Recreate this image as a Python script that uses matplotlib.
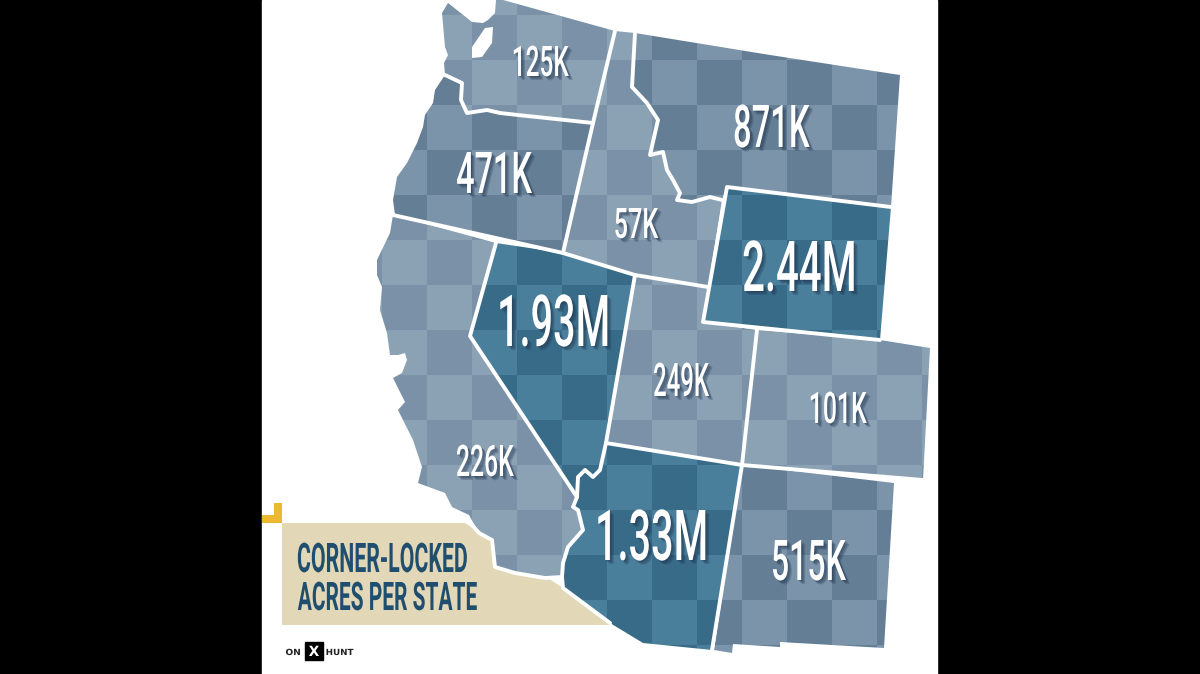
import numpy as np
import matplotlib
matplotlib.use("Agg")
import matplotlib.pyplot as plt
from matplotlib.colors import ListedColormap
from matplotlib.patches import Polygon, Rectangle
from matplotlib.patheffects import AbstractPathEffect
from matplotlib.transforms import Affine2D

# state outlines (image pixels)
wa = [(442,13),(448,3),(467,18),(472,22),(483,23),(488,20),(495,13),(496,0),(503,0),(615,31),(593,123),
      (537,117),(527,116),(500,113),(487,110),(467,113),(461,100),(462,83),(445,75),(444,63),(448,55),(445,47)]
puget = [(472,47),(485,28),(493,27),(492,43),(482,57),(472,58)]
ore = [(445,75),(462,83),(461,100),(467,113),(487,110),(500,113),(527,116),(537,117),(593,123),(563,253),(393,215),
       (395,215),(393,200),(397,177),(407,163),(417,143),(423,127),(425,115),(433,103),(435,90)]
idaho = [(615,31),(635,33),(632,87),(647,103),(658,120),(650,155),(663,152),(667,170),(673,180),(680,193),(677,200),
         (692,202),(710,197),(722,200),(708,287),(635,275),(563,253),(593,123)]
mt = [(635,33),(770,55),(900,75),(891,207),(727,187),(722,200),(710,197),(692,202),(677,200),(680,193),(673,180),
      (667,170),(663,152),(650,155),(658,120),(647,103),(632,87)]
wy = [(727,187),(891,207),(880,340),(703,322)]
co = [(757,330),(880,340),(930,348),(923,480),(742,465)]
ut = [(635,275),(708,287),(703,322),(757,330),(742,465),(606,443)]
nv = [(496,243),(563,253),(635,275),(606,443),(600,470),(593,477),(585,470),(578,477),(577,497),(470,336)]
ca = [(393,215),(496,243),(470,336),(577,497),(573,507),(578,510),(583,530),(568,547),(563,563),(562,577),(545,578),
      (515,573),(495,567),(492,540),(479,533),(469,515),(452,507),(445,493),(418,483),(422,467),(413,440),(398,410),
      (405,402),(393,378),(402,373),(407,360),(405,353),(398,355),(390,355),(387,333),(380,310),(382,287),(377,275),
      (377,260),(390,233)]
az = [(606,443),(742,465),(712,650),(643,643),(610,623),(563,588),(563,563),(568,547),(583,530),(578,510),(573,507),
      (577,497),(578,477),(585,470),(593,477),(600,470)]
nm = [(742,465),(894,483),(884,648),(780,642),(780,647),(733,644),(732,653),(714,650)]

# only the inner borders get a white line, the coast and outer edges stay bare
borders = [
    [(445,75),(462,83),(461,100),(467,113),(487,110),(500,113),(527,116),(537,117),(593,123)],
    [(615,31),(593,123),(563,253)],
    [(635,33),(632,87),(647,103),(658,120),(650,155),(663,152),(667,170),(673,180),(680,193),(677,200),(692,202),
     (710,197),(722,200)],
    [(393,215),(563,253),(635,275),(708,287)],
    [(891,207),(727,187),(703,322),(880,340)],
    [(496,243),(470,336),(577,497)],
    [(635,275),(606,443),(600,470),(593,477),(585,470),(578,477),(577,497),(573,507),(578,510),(583,530),(568,547),
     (563,563),(562,577),(563,588),(610,623)],
    [(757,330),(742,465),(712,650)],
    [(606,443),(742,465),(923,480)],
    [(465,517),(479,533),(492,540),(495,567),(515,573),(545,578),(562,577)],
]

states = [wa, ore, idaho, mt, ca, nv, ut, wy, co, az, nm]
shades = ["pale", "slate", "pale", "slate", "pale", "teal", "pale", "teal", "pale", "teal", "slate"]
labels = ["125K", "471K", "57K", "871K", "226K", "1.93M", "249K", "2.44M", "101K", "1.33M", "515K"]
title_lines = ["CORNER-LOCKED", "ACRES PER STATE"]

palette = {"pale": ["#8BA1B4", "#7A91A7"], "slate": ["#7C94AA", "#647E96"], "teal": ["#4A7F9C", "#376B88"]}
# left, top, right, bottom of each number
label_boxes = [(512,46,567,76), (456,152,531,193), (614,208,657,238), (733,105,808,147), (456,445,513,476),
               (500,295,607,346), (653,363,708,396), (745,241,855,291), (809,392,865,423), (598,510,705,560),
               (771,540,844,580)]
title_boxes = [(298,543,467,572), (298,582,477,610)]


class Fit(AbstractPathEffect):
    # squeezes the glyphs to a given pixel width, the fonts here are too wide
    def __init__(self, width, shadow=0):
        super().__init__()
        self.width = width
        self.shadow = shadow

    def draw_path(self, renderer, gc, tpath, affine, rgbFace=None):
        ext = tpath.get_extents()
        sx = self.width / (ext.width * affine.to_values()[0])
        cx = (ext.x0 + ext.x1) / 2
        fit = Affine2D().translate(-cx, 0).scale(sx, 1).translate(cx, 0) + affine
        for k in range(self.shadow, 0, -1):
            gc0 = renderer.new_gc()
            gc0.copy_properties(gc)
            gc0.set_alpha(0.22)
            renderer.draw_path(gc0, tpath, fit + Affine2D().translate(k, -k), (0.12, 0.2, 0.3))
            gc0.restore()
        renderer.draw_path(gc, tpath, fit, rgbFace)


def fitted_text(ax, box, s, color, shadow=0, weight="bold", family="Roboto"):
    x0, y0, x1, y1 = box
    size = (y1 - y0) / 0.711 * 0.72
    t = ax.text((x0 + x1) / 2, y1, s, ha="center", va="baseline", color=color, fontsize=size,
                fontweight=weight, family=family, zorder=5)
    t.set_path_effects([Fit(x1 - x0, shadow)])


fig = plt.figure(figsize=(12, 6.74), dpi=100, facecolor="black")
ax = fig.add_axes([0, 0, 1, 1])
ax.set_xlim(0, 1200)
ax.set_ylim(674, 0)
ax.axis("off")

ax.add_patch(Rectangle((262, 0), 675, 674, color="white", zorder=0))

# title plate and yellow corner
ax.add_patch(Polygon([(282,523),(465,523),(563,588),(610,625),(282,625)], color="#E2D8B8", lw=0, zorder=1))
ax.add_patch(Polygon([(262,515),(274,515),(274,503),(282,503),(282,523),(262,523)], color="#EDB92E", lw=0, zorder=1))

# checker cells are 45 px and shared by all the states
col_edges = np.arange(337, 1000, 45)
row_edges = np.arange(-30, 720, 45)
cc, rr = np.meshgrid(np.arange(len(col_edges) - 1), np.arange(len(row_edges) - 1))
checker = (cc + rr + 1) % 2

for outline, shade in zip(states, shades):
    clip = Polygon(outline, transform=ax.transData)
    mesh = ax.pcolormesh(col_edges, row_edges, checker, cmap=ListedColormap(palette[shade]),
                         vmin=0, vmax=1, zorder=2, antialiased=False)
    mesh.set_clip_path(clip)

for line in borders:
    xs, ys = zip(*line)
    ax.plot(xs, ys, color="white", lw=2.8, solid_joinstyle="round", solid_capstyle="round", zorder=3)
# Puget Sound
ax.add_patch(Polygon(puget, color="white", lw=0, zorder=3))

for s, box in zip(labels, label_boxes):
    fitted_text(ax, box, s, "white", shadow=4, weight="medium")

for s, box in zip(title_lines, title_boxes):
    fitted_text(ax, box, s, "#1F4E6E")

# logo
ax.add_patch(Rectangle((305, 642), 18, 18, color="black", zorder=4))
fitted_text(ax, (286, 649, 300, 655), "ON", "#222222", family="DejaVu Sans")
fitted_text(ax, (326, 649, 353, 655), "HUNT", "#222222", family="DejaVu Sans")
fitted_text(ax, (309, 646, 319, 656), "X", "white", family="DejaVu Sans")

fig.savefig("out.png", dpi=100, facecolor="black")
